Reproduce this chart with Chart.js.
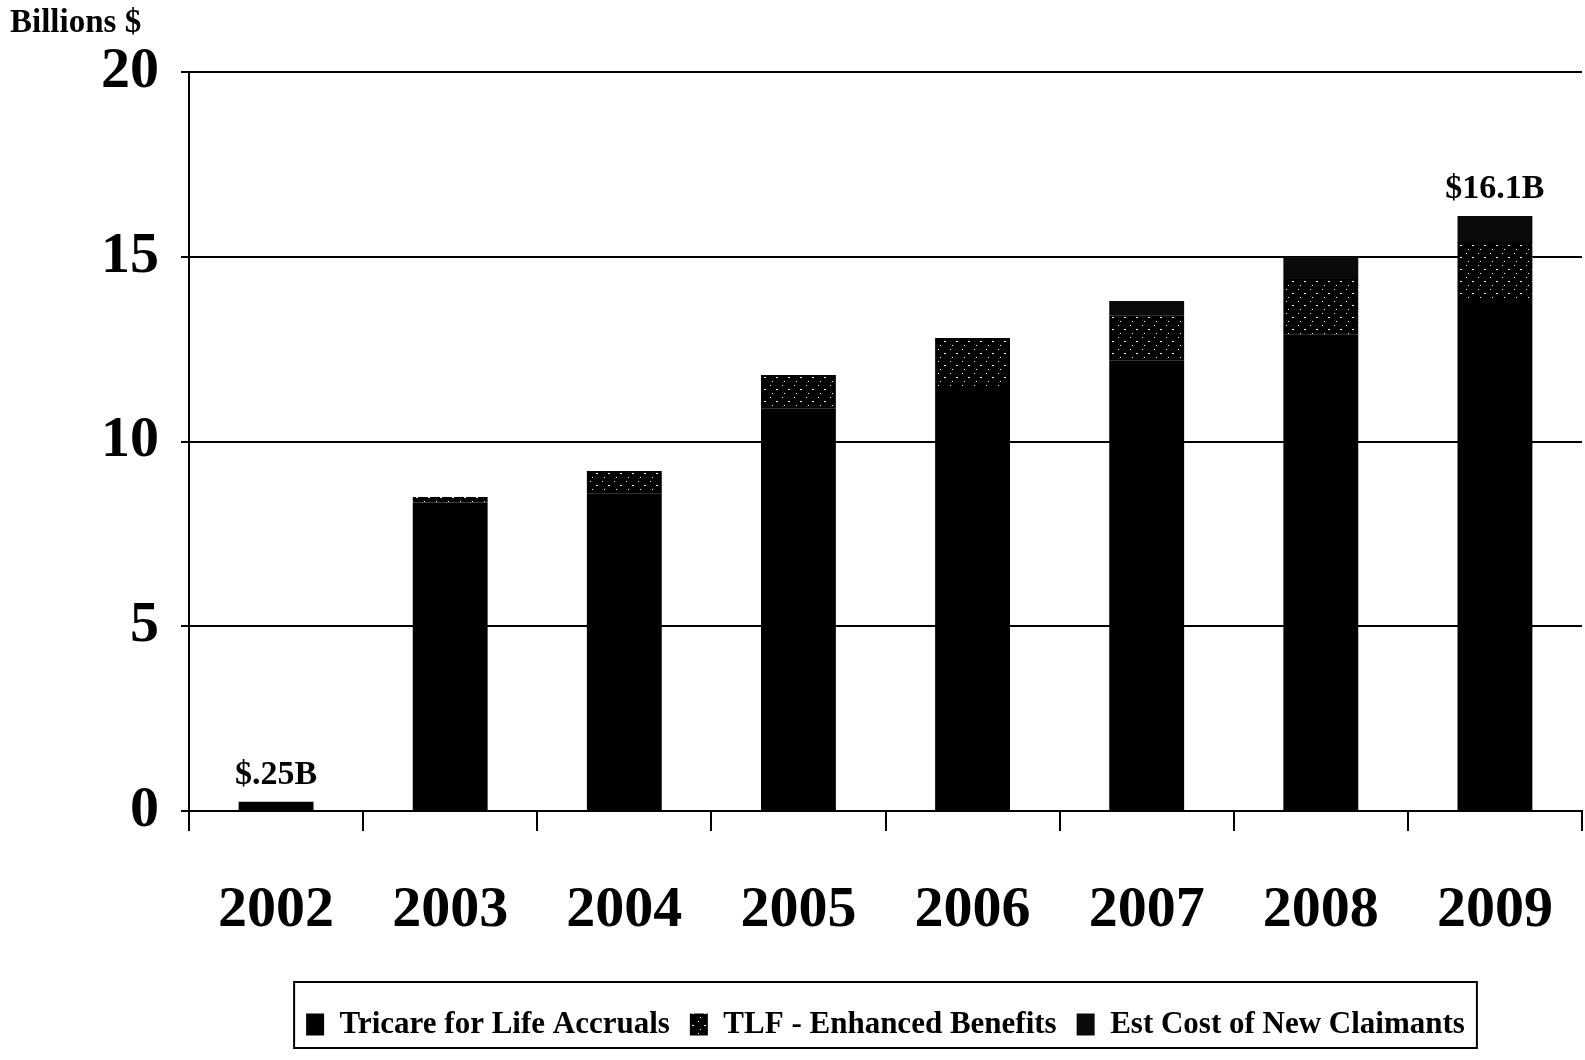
<!DOCTYPE html>
<html>
<head>
<meta charset="utf-8">
<script src="https://cdn.jsdelivr.net/npm/chart.js@4.4.1/dist/chart.umd.min.js"></script>
<style>
  html, body { margin: 0; padding: 0; background: #fff; overflow: hidden; }
  #wrap { width: 1585px; height: 1060px; position: relative; }
  canvas { display: block; }
</style>
</head>
<body>
<div id="wrap"><canvas id="chart"></canvas></div>
<script>
// data (billions of dollars)
const years = ['2002', '2003', '2004', '2005', '2006', '2007', '2008', '2009'];
const tflAccruals = [0.25, 8.35, 8.6, 10.9, 11.5, 12.2, 12.9, 13.8];
const tflEnhanced = [0, 0.15, 0.6, 0.9, 1.3, 1.2, 1.5, 1.6];
const newClaimants = [0, 0, 0, 0, 0, 0.4, 0.6, 0.7];
const yTicks = [0, 5, 10, 15, 20];
const totalLabels = { 0: '$.25B', 7: '$16.1B' };

const serif = '"Liberation Serif", "Times New Roman", serif';

// speckled fill for the middle series, like the scanned original
function speckle() {
  const c = document.createElement('canvas');
  c.width = 12; c.height = 12;
  const g = c.getContext('2d');
  g.fillStyle = '#000';
  g.fillRect(0, 0, 12, 12);
  g.fillStyle = '#fff';
  g.fillRect(2, 1, 1, 1);
  g.fillRect(8, 5, 2, 1);
  g.fillRect(4, 9, 1, 1);
  return g.createPattern(c, 'repeat');
}

// title text, value labels and the box round the legend
const extras = {
  id: 'extras',
  afterDraw(chart) {
    const ctx = chart.ctx;
    ctx.save();
    ctx.fillStyle = '#000';
    ctx.font = 'bold 33px ' + serif;
    ctx.textAlign = 'left';
    ctx.textBaseline = 'top';
    ctx.fillText('Billions $', 10, 7);

    const x = chart.scales.x, y = chart.scales.y;
    ctx.font = 'bold 34px ' + serif;
    ctx.textAlign = 'center';
    ctx.textBaseline = 'bottom';
    Object.keys(totalLabels).forEach(i => {
      const total = tflAccruals[i] + tflEnhanced[i] + newClaimants[i];
      ctx.fillText(totalLabels[i], x.getPixelForValue(+i), y.getPixelForValue(total) - 10);
    });

    const boxes = chart.legend.legendHitBoxes;
    if (boxes && boxes.length) {
      const l = Math.min(...boxes.map(b => b.left)) - 12;
      const r = Math.max(...boxes.map(b => b.left + b.width)) + 12;
      ctx.strokeStyle = '#000';
      ctx.lineWidth = 2;
      ctx.strokeRect(l, 982, r - l, 66);
    }
    ctx.restore();
  }
};

const ctx = document.getElementById('chart').getContext('2d');
const chart = new Chart(ctx, {
  type: 'bar',
  data: {
    labels: years,
    datasets: [
      { label: 'Tricare for Life Accruals', data: tflAccruals, backgroundColor: '#000' },
      { label: 'TLF - Enhanced Benefits', data: tflEnhanced, backgroundColor: speckle() },
      { label: 'Est Cost of New Claimants', data: newClaimants, backgroundColor: '#0a0a0a' }
    ]
  },
  options: {
    responsive: true,
    maintainAspectRatio: false,
    animation: false,
    layout: { padding: { top: 72, right: 3, bottom: 10, left: 0 } },
    datasets: { bar: { categoryPercentage: 1.0, barPercentage: 0.43 } },
    plugins: {
      legend: {
        position: 'bottom',
        fullSize: false,
        labels: {
          color: '#000',
          font: { family: serif, size: 31, weight: 'bold' },
          boxWidth: 18,
          boxHeight: 22,
          padding: 20
        }
      },
      tooltip: { enabled: false }
    },
    scales: {
      x: {
        stacked: true,
        grid: { display: true, drawOnChartArea: false, color: '#000', lineWidth: 2, tickLength: 20 },
        border: { color: '#000', width: 2 },
        ticks: { color: '#000', padding: 45, font: { family: serif, size: 58, weight: 'bold' } },
        afterFit: s => { s.height = 178; s.paddingLeft = 0; s.paddingRight = 0; }
      },
      y: {
        stacked: true,
        min: 0,
        max: 20,
        afterBuildTicks: s => { s.ticks = yTicks.map(v => ({ value: v })); },
        grid: { color: '#000', lineWidth: 2, tickLength: 8 },
        border: { color: '#000', width: 2 },
        ticks: { color: '#000', padding: 22, font: { family: serif, size: 58, weight: 'bold' } },
        afterFit: s => { s.width = 189; }
      }
    }
  },
  plugins: [extras]
});
</script>
</body>
</html>
